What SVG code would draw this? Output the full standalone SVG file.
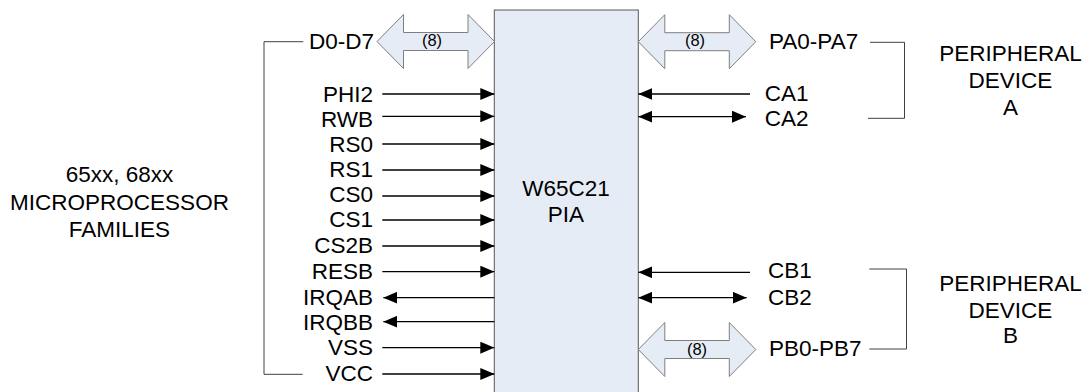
<svg xmlns="http://www.w3.org/2000/svg" xmlns:xlink="http://www.w3.org/1999/xlink" width="1086" height="392" viewBox="0 0 1086 392">
<style>
text{font-family:"Liberation Sans",Arial,sans-serif;font-size:22.5px;fill:#000}
.l{text-anchor:end}
.r{text-anchor:start}
.c{text-anchor:middle}
.s{font-size:16.5px;text-anchor:middle}
.w{fill:none;stroke:#000;stroke-width:1.3}
.br{fill:none;stroke:#404040;stroke-width:1}
.bus{fill:#E6ECF6;stroke:#7F7F7F;stroke-width:1}
</style>
<defs>
<marker id="ah" viewBox="0 0 14 12" refX="14" refY="6" markerWidth="14" markerHeight="12" markerUnits="userSpaceOnUse" orient="auto-start-reverse">
<path d="M0,0 L14,6 L0,12 Z" fill="#000"/>
</marker>
<path id="busarrow" d="M0,0 L26.5,-27 L26.5,-9 L91,-9 L91,-27 L117.5,0 L91,27 L91,9 L26.5,9 L26.5,27 Z"/>
</defs>
<g id="pia">
<rect x="494.3" y="10" width="144" height="400" fill="#E6ECF6" stroke="#595959" stroke-width="1"/>
<text class="c" x="566" y="196">W65C21</text>
<text class="c" x="566" y="221.7">PIA</text>
</g>
<g id="cpu">
<text class="c" x="119.5" y="181.7">65xx, 68xx</text>
<text class="c" x="119.5" y="210">MICROPROCESSOR</text>
<text class="c" x="119.5" y="237.3">FAMILIES</text>
</g>
<g id="periph-a">
<text class="c" x="1010.5" y="60.5">PERIPHERAL</text>
<text class="c" x="1010.5" y="88.3">DEVICE</text>
<text class="c" x="1010.5" y="115">A</text>
</g>
<g id="periph-b">
<text class="c" x="1010.5" y="291">PERIPHERAL</text>
<text class="c" x="1010.5" y="317.7">DEVICE</text>
<text class="c" x="1010.5" y="343.3">B</text>
</g>
<g id="pin-labels">
<text class="l" x="374" y="48.5">D0-D7</text>
<text class="l" x="373" y="101.7">PHI2</text>
<text class="l" x="373" y="126.7">RWB</text>
<text class="l" x="373" y="151.7">RS0</text>
<text class="l" x="373" y="177.3">RS1</text>
<text class="l" x="373" y="202.3">CS0</text>
<text class="l" x="373" y="227.3">CS1</text>
<text class="l" x="373" y="252.7">CS2B</text>
<text class="l" x="373" y="279.3">RESB</text>
<text class="l" x="373" y="305">IRQAB</text>
<text class="l" x="373" y="330">IRQBB</text>
<text class="l" x="373" y="355">VSS</text>
<text class="l" x="373" y="380.5">VCC</text>
<text class="r" x="769" y="48.5">PA0-PA7</text>
<text class="r" x="764.7" y="100.7">CA1</text>
<text class="r" x="764.7" y="125.7">CA2</text>
<text class="r" x="768" y="278.3">CB1</text>
<text class="r" x="768" y="305">CB2</text>
<text class="r" x="769" y="356">PB0-PB7</text>
</g>
<g id="connectors">
<use xlink:href="#busarrow" class="bus" transform="translate(377,41.5)"/>
<use xlink:href="#busarrow" class="bus" transform="translate(638.3,41.7)"/>
<use xlink:href="#busarrow" class="bus" transform="translate(638.3,349.5)"/>
<text class="s" x="432" y="46">(8)</text>
<text class="s" x="695" y="46">(8)</text>
<text class="s" x="697" y="355">(8)</text>
<path class="w" d="M382.3,94H494.3" marker-end="url(#ah)"/>
<path class="w" d="M382.3,116.3H494.3" marker-end="url(#ah)"/>
<path class="w" d="M382.3,144H494.3" marker-end="url(#ah)"/>
<path class="w" d="M382.3,170H494.3" marker-end="url(#ah)"/>
<path class="w" d="M382.3,196H494.3" marker-end="url(#ah)"/>
<path class="w" d="M382.3,220H494.3" marker-end="url(#ah)"/>
<path class="w" d="M382.3,246H494.3" marker-end="url(#ah)"/>
<path class="w" d="M382.3,271.7H494.3" marker-end="url(#ah)"/>
<path class="w" d="M494.3,297.7H383.3" marker-end="url(#ah)"/>
<path class="w" d="M494.3,321.7H383.3" marker-end="url(#ah)"/>
<path class="w" d="M382.3,347.7H494.3" marker-end="url(#ah)"/>
<path class="w" d="M382.3,374H494.3" marker-end="url(#ah)"/>
<path class="w" d="M750,94H638.3" marker-end="url(#ah)"/>
<path class="w" d="M638.3,116.7H746" marker-start="url(#ah)" marker-end="url(#ah)"/>
<path class="w" d="M750,272.3H638.3" marker-end="url(#ah)"/>
<path class="w" d="M638.3,297.7H746.7" marker-start="url(#ah)" marker-end="url(#ah)"/>
<path class="br" d="M303.3,41.7H264V374.3H302.7"/>
<path class="br" d="M870,42.3H904.5V118.3H868"/>
<path class="br" d="M869.3,269H906.5V349H869.3"/>
</g>
</svg>
